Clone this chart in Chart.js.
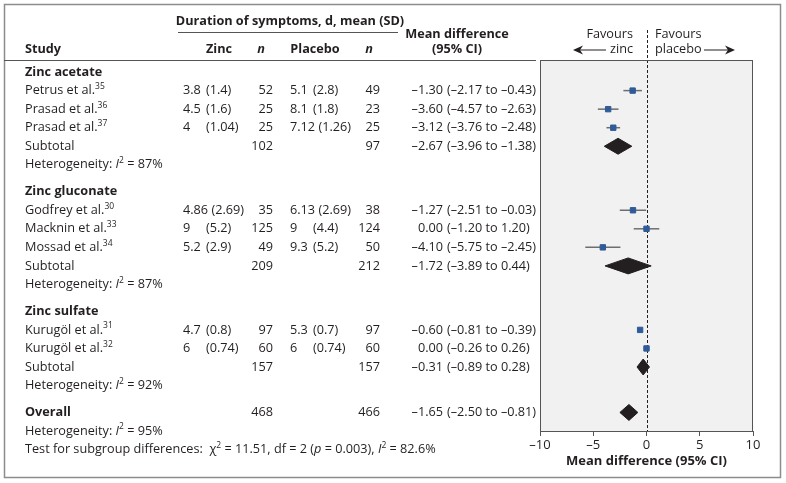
<!DOCTYPE html>
<html><head><meta charset="utf-8">
<script src="https://cdn.jsdelivr.net/npm/chart.js@4"></script>
<style>html,body{margin:0;padding:0;background:#fff}</style>
</head><body>
<canvas id="c" width="786" height="483" style="display:block;width:786px;height:483px"></canvas>
<script>
// ---------- DATA ----------
const groups = ['Zinc acetate', 'Zinc gluconate', 'Zinc sulfate'];
const studies = ['Petrus et al.', 'Prasad et al.', 'Prasad et al.', 'Godfrey et al.', 'Macknin et al.', 'Mossad et al.', 'Kurugöl et al.', 'Kurugöl et al.'];
const refs = ['35', '36', '37', '30', '33', '34', '31', '32'];
const studyGroup = [0, 0, 0, 1, 1, 1, 2, 2];
const zincMean = ['3.8', '4.5', '4', '4.86', '9', '5.2', '4.7', '6'];
const zincSD = ['1.4', '1.6', '1.04', '2.69', '5.2', '2.9', '0.8', '0.74'];
const zincN = [52, 25, 25, 35, 125, 49, 97, 60];
const placeboMean = ['5.1', '8.1', '7.12', '6.13', '9', '9.3', '5.3', '6'];
const placeboSD = ['2.8', '1.8', '1.26', '2.69', '4.4', '5.2', '0.7', '0.74'];
const placeboN = [49, 23, 25, 38, 124, 50, 97, 60];
const meanDiff = [-1.30, -3.60, -3.12, -1.27, 0.00, -4.10, -0.60, 0.00];
const ciLow = [-2.17, -4.57, -3.76, -2.51, -1.20, -5.75, -0.81, -0.26];
const ciHigh = [-0.43, -2.63, -2.48, -0.03, 1.20, -2.45, -0.39, 0.26];
const subZincN = [102, 209, 157];
const subPlaceboN = [97, 212, 157];
const subMean = [-2.67, -1.72, -0.31];
const subLow = [-3.96, -3.89, -0.89];
const subHigh = [-1.38, 0.44, 0.28];
const subI2 = ['87%', '87%', '92%'];
const overallN = [468, 466];
const overallMD = [-1.65, -2.50, -0.81];
const overallI2 = '95%';
const testText = ['11.51', '2', '0.003', '82.6%'];
const xTicks = [-10, -5, 0, 5, 10];

// ---------- LAYOUT (row positions in row units) ----------
const rows = [];
let pos = 0.65;
const studyY = [], subY = [];
groups.forEach((g, gi) => {
  rows.push({kind: 'group', y: pos, idx: gi}); pos += 1;
  studyGroup.forEach((sg, si) => { if (sg === gi) { studyY[si] = pos; pos += 1; } });
  subY[gi] = pos; pos += 1;
  rows.push({kind: 'het', y: pos, idx: gi});
  pos += 1.45;
});
const overallY = pos;
const overallHetY = pos + 1;
const testY = pos + 2;

const FONT = "'Open Sans', sans-serif";
const TXT = '#231f20';
const BLUE = '#2f5b98';
const FS = 12.7;
const fn = (size, weight, style) => `${style || 'normal'} ${weight || 'normal'} ${size}px ${FONT}`;
const fmt = v => (v < 0 ? '\u2013' : '') + Math.abs(v).toFixed(2);

function rich(ctx, x, y, segs, align) {
  let w = 0;
  segs.forEach(s => { ctx.font = s[1]; s.w = ctx.measureText(s[0]).width; w += s.w; });
  let cx = align === 'right' ? x - w : align === 'center' ? x - w / 2 : x;
  ctx.textAlign = 'left'; ctx.textBaseline = 'middle'; ctx.fillStyle = TXT;
  segs.forEach(s => { ctx.font = s[1]; ctx.fillText(s[0], cx, y + (s[2] || 0)); cx += s.w; });
  return w;
}
function txt(ctx, t, x, y, align, font) {
  ctx.font = font || fn(FS); ctx.textAlign = align || 'left'; ctx.textBaseline = 'middle';
  ctx.fillStyle = TXT; ctx.fillText(t, x, y);
}

const COL = {name: 25, zm: 183, zsd: 206, zn: 273, pm: 290, psd: 313, pn: 380, md: 443, ci: 447};

function meanSD(ctx, m, sd, xm, xsd, y) {
  ctx.font = fn(FS);
  const wm = ctx.measureText(m + ' ').width;
  txt(ctx, m, xm, y);
  txt(ctx, '(' + sd + ')', Math.max(xsd, xm + wm), y);
}
function mdText(ctx, m, lo, hi, y) {
  txt(ctx, fmt(m), COL.md, y, 'right');
  txt(ctx, '(' + fmt(lo) + ' to ' + fmt(hi) + ')', COL.ci, y);
}
function hetText(ctx, val, y) {
  rich(ctx, COL.name, y, [['Heterogeneity: ', fn(FS)], ['I', fn(FS, 'normal', 'italic')], ['2', fn(8.5), -4], [' = ' + val, fn(FS)]]);
}
function arrow(ctx, x1, x2, y) {
  const dir = Math.sign(x2 - x1);
  ctx.strokeStyle = TXT; ctx.lineWidth = 1;
  ctx.beginPath(); ctx.moveTo(x1, y); ctx.lineTo(x2 - dir * 4, y); ctx.stroke();
  ctx.fillStyle = TXT; ctx.beginPath();
  ctx.moveTo(x2, y); ctx.lineTo(x2 - dir * 10, y - 4.5); ctx.lineTo(x2 - dir * 7, y);
  ctx.lineTo(x2 - dir * 10, y + 4.5); ctx.closePath(); ctx.fill();
}

const forestPlugin = {
  id: 'forest',
  beforeDraw(chart) {
    const {ctx, chartArea: a} = chart;
    ctx.save();
    ctx.fillStyle = '#fff'; ctx.fillRect(0, 0, chart.width, chart.height);
    ctx.fillStyle = '#f1f1f1'; ctx.fillRect(a.left, a.top, a.right - a.left, a.bottom - a.top);
    ctx.restore();
  },
  beforeDatasetsDraw(chart) {
    const {ctx, chartArea: a, scales: {x}} = chart;
    const x0 = Math.round(x.getPixelForValue(0)) + 0.5;
    ctx.save();
    ctx.strokeStyle = TXT; ctx.lineWidth = 1; ctx.setLineDash([3, 2]);
    ctx.beginPath(); ctx.moveTo(x0, 30); ctx.lineTo(x0, a.bottom); ctx.stroke();
    ctx.restore();
  },
  afterDraw(chart) {
    const {ctx, chartArea: a, scales: {y}} = chart;
    const Y = v => y.getPixelForValue(v);
    ctx.save();
    ctx.strokeStyle = '#555'; ctx.lineWidth = 1;
    ctx.strokeRect(a.left + 0.5, a.top + 0.5, a.right - a.left - 1, a.bottom - a.top);
    ctx.strokeStyle = '#8c8c8c'; ctx.lineWidth = 1.5;
    ctx.strokeRect(4.5, 4.5, 776, 473);
    ctx.strokeStyle = '#555'; ctx.lineWidth = 1;
    ctx.beginPath(); ctx.moveTo(4, a.top + 0.5); ctx.lineTo(536, a.top + 0.5); ctx.stroke();
    ctx.beginPath(); ctx.moveTo(178, 32.5); ctx.lineTo(398, 32.5); ctx.stroke();
    const B = fn(FS, 'bold');
    txt(ctx, 'Duration of symptoms, d, mean (SD)', 290, 21, 'center', B);
    txt(ctx, 'Study', COL.name, 49, 'left', B);
    txt(ctx, 'Zinc', 219, 49, 'center', B);
    txt(ctx, 'n', 261, 49, 'center', fn(FS, 'bold', 'italic'));
    txt(ctx, 'Placebo', 315, 49, 'center', B);
    txt(ctx, 'n', 369, 49, 'center', fn(FS, 'bold', 'italic'));
    txt(ctx, 'Mean difference', 457, 34, 'center', B);
    txt(ctx, '(95% CI)', 457, 49, 'center', B);
    txt(ctx, 'Favours', 633, 34, 'right');
    txt(ctx, 'zinc', 633, 49, 'right');
    txt(ctx, 'Favours', 655, 34, 'left');
    txt(ctx, 'placebo', 655, 49, 'left');
    arrow(ctx, 606, 573, 50);
    arrow(ctx, 704, 735, 50);
    rows.forEach(r => {
      if (r.kind === 'group') txt(ctx, groups[r.idx], COL.name, Y(r.y), 'left', B);
      else hetText(ctx, subI2[r.idx], Y(r.y));
    });
    studies.forEach((s, i) => {
      const yy = Y(studyY[i]);
      rich(ctx, COL.name, yy, [[s, fn(FS)], [refs[i], fn(8.5), -4]]);
      meanSD(ctx, zincMean[i], zincSD[i], COL.zm, COL.zsd, yy);
      txt(ctx, String(zincN[i]), COL.zn, yy, 'right');
      meanSD(ctx, placeboMean[i], placeboSD[i], COL.pm, COL.psd, yy);
      txt(ctx, String(placeboN[i]), COL.pn, yy, 'right');
      mdText(ctx, meanDiff[i], ciLow[i], ciHigh[i], yy);
    });
    groups.forEach((g, gi) => {
      const yy = Y(subY[gi]);
      txt(ctx, 'Subtotal', COL.name, yy);
      txt(ctx, String(subZincN[gi]), COL.zn, yy, 'right');
      txt(ctx, String(subPlaceboN[gi]), COL.pn, yy, 'right');
      mdText(ctx, subMean[gi], subLow[gi], subHigh[gi], yy);
    });
    const oy = Y(overallY);
    txt(ctx, 'Overall', COL.name, oy, 'left', B);
    txt(ctx, String(overallN[0]), COL.zn, oy, 'right');
    txt(ctx, String(overallN[1]), COL.pn, oy, 'right');
    mdText(ctx, overallMD[0], overallMD[1], overallMD[2], oy);
    hetText(ctx, overallI2, Y(overallHetY));
    const N = fn(FS), I = fn(FS, 'normal', 'italic'), S = fn(8.5);
    rich(ctx, COL.name, Y(testY), [
      ['Test for subgroup differences:  \u03C7', N], ['2', S, -4], [' = ' + testText[0] + ', df = ' + testText[1] + ' (', N],
      ['p', I], [' = ' + testText[2] + '), ', N], ['I', I], ['2', S, -4], [' = ' + testText[3], N]
    ]);
    ctx.restore();
  }
};

// ---------- DATASETS ----------
const DH = 0.43;
const diamond = (m, lo, hi, yy) => [
  {x: lo, y: yy}, {x: m, y: yy - DH}, {x: hi, y: yy}, {x: m, y: yy + DH}, {x: lo, y: yy}
];
const datasets = [
  {
    label: 'Studies',
    data: meanDiff.map((v, i) => ({x: v, y: studyY[i]})),
    pointStyle: 'rect', pointRadius: 3.8, pointHoverRadius: 3.8,
    backgroundColor: BLUE, borderColor: BLUE, borderWidth: 1
  },
  ...meanDiff.map((v, i) => ({
    label: 'CI ' + studies[i],
    data: [{x: ciLow[i], y: studyY[i]}, {x: ciHigh[i], y: studyY[i]}],
    showLine: true, pointRadius: 0, borderColor: '#6d6e70', borderWidth: 1.5
  })),
  ...groups.map((g, gi) => ({
    label: 'Subtotal ' + g,
    data: diamond(subMean[gi], subLow[gi], subHigh[gi], subY[gi]),
    showLine: true, fill: 'shape', pointRadius: 0, tension: 0,
    backgroundColor: TXT, borderColor: TXT, borderWidth: 1
  })),
  {
    label: 'Overall',
    data: diamond(overallMD[0], overallMD[1], overallMD[2], overallY),
    showLine: true, fill: 'shape', pointRadius: 0, tension: 0,
    backgroundColor: TXT, borderColor: TXT, borderWidth: 1
  }
];

new Chart(document.getElementById('c'), {
  type: 'scatter',
  data: {datasets},
  options: {
    responsive: false, animation: false, devicePixelRatio: 1,
    layout: {padding: {left: 540, right: 33, top: 60, bottom: 0}},
    plugins: {legend: {display: false}, tooltip: {enabled: false}},
    scales: {
      x: {
        type: 'linear', min: xTicks[0], max: xTicks[xTicks.length - 1],
        afterBuildTicks: s => { s.ticks = xTicks.map(v => ({value: v})); },
        afterFit: s => { s.height = 52; },
        grid: {drawOnChartArea: false, drawTicks: true, tickLength: 5, color: '#555'},
        border: {display: true, color: '#555'},
        ticks: {
          padding: 1, color: TXT, font: {family: FONT, size: 13},
          maxRotation: 0,
          callback: v => (v < 0 ? '\u2013' : '') + Math.abs(v)
        },
        title: {display: true, text: 'Mean difference (95% CI)', color: TXT,
          font: {family: FONT, size: 13, weight: 'bold'}, padding: {top: 0, bottom: 14}}
      },
      y: {type: 'linear', display: false, min: 0, max: 20, reverse: true}
    }
  },
  plugins: [forestPlugin]
});
</script>
</body></html>
